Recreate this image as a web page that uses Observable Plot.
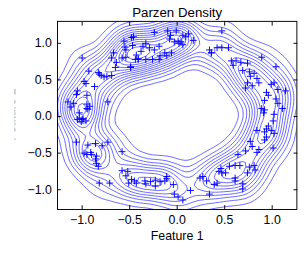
<!DOCTYPE html>
<html>
<head>
<meta charset="utf-8">
<script src="https://cdn.jsdelivr.net/npm/d3@7"></script>
<script src="https://cdn.jsdelivr.net/npm/@observablehq/plot@0.6"></script>
<style>
  html, body { margin: 0; padding: 0; background: #fff; overflow: hidden; }
  #chart { width: 304px; height: 258px; overflow: hidden; }
  svg { font-family: "Liberation Sans", Arial, sans-serif; }
</style>
</head>
<body>
<div id="chart"></div>
<script>
const title = "Parzen Density";
const xLabel = "Feature 1";
const yLabel = "Feature 2";
const xTicks = [-1, -0.5, 0, 0.5, 1];
const yTicks = [-1, -0.5, 0, 0.5, 1];

// Feature 1 values
const feature1 = [
  -1.00,-0.93,-0.48,-0.56,-0.55,-0.47,-0.67,-0.69,-0.58,-0.54,-0.64,-0.65,-0.49,-0.41,-0.43,-0.80,-0.77,-0.74,-0.69,-0.96,-0.87,-1.05,-1.06,-1.15,-1.09,-0.95,-0.95,-0.92,-0.94,-0.73,-1.03,
  -1.03,-1.05,-1.00,-1.01,-0.96,-0.99,-0.95,-1.12,-0.98,-0.82,-0.83,
  -1.06,-0.94,-0.86,-0.79,-0.73,-0.98,-0.95,-0.91,-0.90,-0.85,-0.85,-0.83,-0.86,-0.58,-0.82,-0.71,
  -0.58,-0.52,-0.54,-0.48,-0.45,-0.51,-0.43,-0.34,-0.33,-0.23,-0.23,-0.13,-0.11,-0.04,-0.03,0.01,0.06,0.14,0.24,0.27,0.34,0.39,0.42,-0.28,-0.18,-0.11,
  0.31,0.46,0.47,0.51,0.61,0.61,0.61,0.66,0.69,0.74,0.76,0.81,0.82,0.64,0.72,0.77,0.79,0.86,0.84,0.84,0.92,0.94,0.92,1.01,1.02,1.01,0.96,0.69,0.55,0.44,
  0.42,0.47,0.36,0.57,0.62,0.67,0.74,0.89,0.59,0.69,0.76,0.81,0.77,0.84,0.86,1.04,0.74,0.79,0.72,0.99,1.02,0.94,0.96,0.92,1.06,1.14,1.04,1.06,0.89,0.92,0.91,0.94,0.99,1.02,1.11,0.54,
  -0.24,-0.07,-0.08,-0.03,0.01,0.02,0.04,0.06,0.12,0.09,0.17,-0.36,-0.38,-0.29,-0.24,-0.19,-0.13,-0.11,-0.06,-0.18,-0.41,-0.33,-0.26,0.34,0.36,-0.01,0.47,-0.46,-0.33,-0.54,-0.19,-0.44,-0.49,-0.10,0.06
];
// Feature 2 values
const feature2 = [
  0.80,0.62,1.08,1.03,0.95,0.97,0.87,0.80,0.80,0.81,0.74,0.67,0.67,0.79,0.84,0.56,0.54,0.55,0.56,0.45,0.41,0.35,0.30,0.20,0.18,0.29,0.17,0.14,0.10,0.20,0.05,
  -0.02,-0.04,-0.04,-0.07,-0.06,-0.03,0.11,0.13,0.48,0.58,0.60,
  -0.35,-0.39,-0.37,-0.40,-0.35,-0.50,-0.52,-0.49,-0.52,-0.54,-0.64,-0.68,-0.58,-0.48,-0.91,-0.91,
  -0.74,-0.75,-0.81,-0.86,-0.88,-0.91,-0.91,-0.88,-0.92,-0.87,-0.95,-0.88,-0.82,-0.93,-1.06,-1.10,-1.14,-1.01,-0.84,-0.82,-1.06,-0.93,-0.91,-0.89,-0.89,-0.85,
  -0.88,-0.71,-0.77,-0.77,-0.67,-0.84,-0.88,-0.67,-0.99,-0.77,-0.69,-0.67,-0.73,-0.52,-0.47,-0.34,-0.41,-0.45,-0.49,-0.19,-0.21,-0.28,-0.32,-0.06,0.03,-0.43,-0.13,-0.92,-0.68,-0.75,
  0.94,0.94,0.87,0.76,0.76,0.74,0.73,0.81,0.70,0.63,0.61,0.59,0.55,0.52,0.46,0.68,0.46,0.42,0.39,0.44,0.46,0.33,0.29,0.22,0.37,0.35,0.24,0.18,0.11,0.09,0.05,-0.17,-0.19,-0.23,0.11,0.94,
  1.15,1.11,1.06,1.02,1.03,1.00,1.02,0.98,1.13,1.09,1.04,0.96,0.89,0.94,0.91,0.96,0.87,0.83,0.87,0.83,0.78,0.78,0.78,0.91,0.87,1.17,1.17,1.09,1.00,0.91,0.78,0.78,0.68,1.17,1.11
];

const points = feature1.map((x, i) => ({x, y: feature2[i]}));

const thinPlus = {
  draw(context, size) {
    const r = Math.sqrt(size / Math.PI);
    context.moveTo(-r, 0); context.lineTo(r, 0);
    context.moveTo(0, -r); context.lineTo(0, r);
  }
};

const yLabelDx = -49;

const chart = Plot.plot({
  width: 320,
  height: 258,
  marginLeft: 60,
  marginRight: 8,
  marginTop: 22,
  marginBottom: 38,
  style: {fontFamily: "Liberation Sans, Arial, sans-serif", fontSize: "13px", color: "black", background: "white"},
  x: {domain: [-1.26, 1.26]},
  y: {domain: [-1.27, 1.30]},
  marks: [
    Plot.density(points, {x: "x", y: "y", bandwidth: 11, thresholds: 14, stroke: "#2a2aff", strokeOpacity: 0.8, strokeWidth: 0.9, fill: "none", clip: true}),
    Plot.dot(points, {x: "x", y: "y", symbol: thinPlus, r: 3.6, stroke: "#0000ff", strokeWidth: 1, fill: "none"}),
    Plot.frame({stroke: "black", strokeWidth: 1}),
    Plot.axisX({ticks: xTicks, tickSize: -4, tickPadding: 10, label: null, fontSize: 13}),
    Plot.axisX({anchor: "top", ticks: xTicks, tickSize: -4, fill: "none", label: null}),
    Plot.axisY({ticks: yTicks, tickSize: -4, tickPadding: 10, label: null, fontSize: 13}),
    Plot.axisY({anchor: "right", ticks: yTicks, tickSize: -4, fill: "none", label: null}),
    Plot.text([title], {frameAnchor: "top", lineAnchor: "middle", textAnchor: "middle", dy: -9, fontSize: 14, fill: "black"}),
    Plot.text([xLabel], {frameAnchor: "bottom", lineAnchor: "middle", textAnchor: "middle", dy: 28, fontSize: 13, fill: "black"}),
    Plot.text([yLabel], {frameAnchor: "left", lineAnchor: "middle", textAnchor: "middle", dx: yLabelDx, dy: -1, rotate: -90, fontSize: 13, fill: "black", className: "ylab"})
  ]
});

document.getElementById("chart").appendChild(chart);

// The y label is mostly hidden at the left edge in the reference; clip it to its visible sliver.
// The mark's group is translated by dx, so the clip rectangle is given in that local space.
const svg = d3.select(chart);
const defs = svg.insert("defs", ":first-child");
defs.append("clipPath").attr("id", "ylab-clip")
  .append("rect").attr("x", 15 - yLabelDx).attr("y", -10).attr("width", 20).attr("height", 280);
svg.selectAll("g.ylab").attr("clip-path", "url(#ylab-clip)");
</script>
</body>
</html>
